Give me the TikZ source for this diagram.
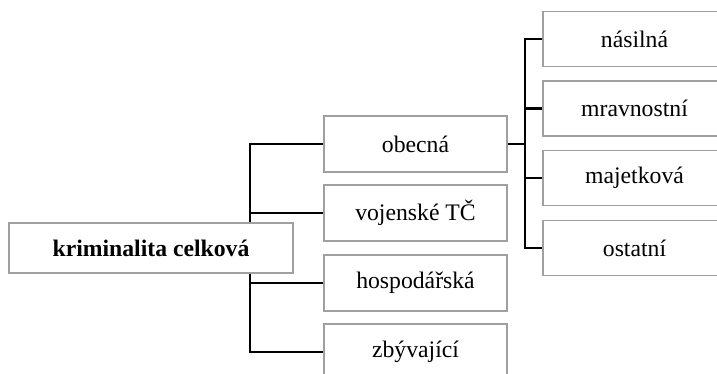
\documentclass[tikz,border=0pt]{standalone}
\usepackage{fontspec}
\setmainfont{Liberation Serif}

\tikzset{every picture/.style={line width=1pt}}
\tikzset{
  box/.style={draw={rgb, 255:red, 160; green, 160; blue, 160}, line width=1.2pt, fill=white,
    minimum width=183, minimum height=56, inner sep=0pt,
    font=\fontsize{23.7}{28}\selectfont},
  link/.style={draw=black, line width=2.7pt}
}

\begin{document}
\begin{tikzpicture}[x=1pt,y=1pt,yscale=-1,xscale=1]
\useasboundingbox (0,0) rectangle (717,374);
\clip (0,0) rectangle (717,374);

% Root
\node [box, minimum width=284, minimum height=50] (root) at (151,248) {\bfseries kriminalita celková};

% First level
\node [box] (obecna) at (415.5,144) {obecná};
\node [box] (vojenske) at (415.5,213) {vojenské TČ};
\node [box] (hospodarska) at (415.5,283) {hospodářská};
\node [box] (zbyvajici) at (415.5,352) {zbývající};

% Second level
\node [box, minimum height=55] (nasilna) at (634.5,39) {násilná};
\node [box, minimum height=55] (mravnostni) at (634.5,108.5) {mravnostní};
\node [box, minimum height=55] (majetkova) at (634.5,178) {majetková};
\node [box, minimum height=55] (ostatni) at (634.5,248) {ostatní};

% Buses
\coordinate (busL) at (250,0);
\coordinate (busR) at (525,0);

%Straight Lines
\draw [link] (obecna.west) -| (root.north -| busL);
\draw [link] (vojenske.west) -- (vojenske.west -| busL);
\draw [link] (hospodarska.west) -| (root.south -| busL);
\draw [link] (zbyvajici.west) -| (root.south -| busL);

\draw [link] (obecna.east) -- (obecna.east -| busR);
\draw [link] (nasilna.west) -| (ostatni.west -| busR) -- (ostatni.west);
\draw [link] (mravnostni.west) -- (mravnostni.west -| busR);
\draw [link] (majetkova.west) -- (majetkova.west -| busR);

\end{tikzpicture}
\end{document}
